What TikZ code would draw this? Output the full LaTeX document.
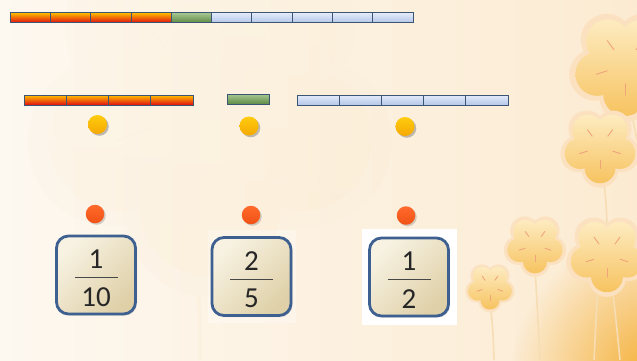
\documentclass[tikz,border=0pt]{standalone}
\usepackage{fontspec}
\setmainfont{Carlito}
\usetikzlibrary{shadows,fadings}

\definecolor{bgleft}{HTML}{FDF8F0}
\definecolor{bgright}{HTML}{FCEBD2}
\definecolor{glow}{HTML}{F4AC2C}
\definecolor{petaltop}{HTML}{FDEBC0}
\definecolor{petalbot}{HTML}{F7C360}
\definecolor{petalhalo}{HTML}{FBE1BF}
\definecolor{petalmark}{HTML}{F0A47A}
\definecolor{stemcol}{HTML}{F6DDB4}
\definecolor{segline}{HTML}{3D5575}
\definecolor{redtop}{HTML}{FFC000}
\definecolor{redmid}{HTML}{FF7000}
\definecolor{redbot}{HTML}{E01010}
\definecolor{greentop}{HTML}{A9C894}
\definecolor{greenbot}{HTML}{5E8C45}
\definecolor{bluetop}{HTML}{E4ECFA}
\definecolor{bluebot}{HTML}{B4C6E8}
\definecolor{dotyel}{HTML}{FFCC10}
\definecolor{dotyeldark}{HTML}{F5A800}
\definecolor{dotorg}{HTML}{FF6A2C}
\definecolor{dotorgdark}{HTML}{F05214}
\definecolor{boxblue}{HTML}{3E6090}
\definecolor{boxlight}{HTML}{F7F2E2}
\definecolor{boxdark}{HTML}{DFD0A8}
\definecolor{ink}{HTML}{262626}

\tikzfading[name=glowfade, inner color=transparent!0, outer color=transparent!100]

\tikzset{
  seg/.style={draw=segline, line width=0.8pt},
  redseg/.style={seg, top color=redtop, middle color=redmid, bottom color=redbot},
  greenseg/.style={seg, top color=greentop, bottom color=greenbot},
  blueseg/.style={seg, top color=bluetop, bottom color=bluebot},
  yeldot/.style={circle, inner sep=0pt, minimum size=19pt, top color=dotyel, bottom color=dotyeldark,
    drop shadow={shadow xshift=1.8pt, shadow yshift=-1.8pt, opacity=0.5}},
  orgdot/.style={circle, inner sep=0pt, minimum size=18.5pt, top color=dotorg, bottom color=dotorgdark,
    drop shadow={shadow xshift=1.5pt, shadow yshift=-1.5pt, opacity=0.35}},
  fracbox/.style={draw=boxblue, line width=2.8pt, rounded corners=12pt,
    minimum width=79pt, minimum height=78pt, inner sep=0pt,
    top color=boxlight, bottom color=boxdark, shading angle=45,
    drop shadow={shadow xshift=1.5pt, shadow yshift=-1.5pt, opacity=0.25}},
  digit/.style={font=\fontsize{29}{32}\selectfont, text=ink, inner sep=0pt, anchor=base},
  fracline/.style={draw=ink!85, line width=1.1pt},
  flower/.pic={
    \fill[petalhalo] (0,0) circle (0.5)
      foreach \a in {90,162,234,306,378} { (\a:0.6) circle (0.5) };
    \shade[top color=petaltop, bottom color=petalbot] (0,0) circle (0.42)
      foreach \a in {90,162,234,306,378} { (\a:0.56) circle (0.42) };
    \foreach \a in {90,162,234,306,378}
      \draw[petalmark, line width=0.9pt, line cap=round] (\a:0.36) -- (\a:0.58);
  },
  stem/.style={draw=stemcol, line width=1.6pt}
}

\begin{document}
\begin{tikzpicture}[x=1pt, y=-1pt]
\useasboundingbox (0,0) rectangle (637,360);

% background
\shade[left color=bgleft, right color=bgright] (0,0) rectangle (637,360);
\fill[glow, path fading=glowfade] (660,380) circle (150);

% faint large flower behind the content
\begin{scope}[transparency group, opacity=0.06]
  \draw[stemcol!60!orange, line width=4pt] (197,150) -- (200,360);
  \pic at (210,110) [scale=170] {flower};
\end{scope}

% stems
\draw[stem] (490,300) .. controls (493,330) .. (494,360);
\draw[stem] (535,268) .. controls (538,320) .. (540,360);
\draw[stem] (598,285) .. controls (596,320) .. (594,360);
\draw[stem] (612,285) .. controls (616,320) .. (620,360);
\draw[stem] (603,175) .. controls (606,200) .. (607,225);
\draw[stem] (630,105) .. controls (634,125) .. (637,140);

% flowers
\pic at (625,65) [scale=52] {flower};
\pic at (600,147) [scale=37] {flower};
\pic at (535,245) [scale=29] {flower};
\pic at (607,255) [scale=38] {flower};
\pic at (490,287) [scale=23] {flower};

% whole strip of ten parts
\foreach \i in {0,...,3}
  \path[redseg] ({10+40.3*\i},12.5) rectangle ({10+40.3*(\i+1)},22.5);
\path[greenseg] (171.2,12.5) rectangle (211.5,22.5);
\foreach \i in {0,...,4}
  \path[blueseg] ({211.5+40.3*\i},12.5) rectangle ({211.5+40.3*(\i+1)},22.5);

% the strip cut into pieces
\foreach \i in {0,...,3}
  \path[redseg] ({24+42.25*\i},95) rectangle ({24+42.25*(\i+1)},105);
\path[greenseg] (227,94) rectangle (269,104);
\foreach \i in {0,...,4}
  \path[blueseg] ({297+42.2*\i},95) rectangle ({297+42.2*(\i+1)},105);

% markers
\node[yeldot] (y1) at (97.5,124.5) {};
\node[yeldot] (y2) at (249,126) {};
\node[yeldot] (y3) at (405,126.5) {};
\node[orgdot] (o1) at (95,214) {};
\node[orgdot] (o2) at (251,215) {};
\node[orgdot] (o3) at (406,215.5) {};

% fraction cards
\fill[white, opacity=0.3] (208,230) rectangle (296,323);
\fill[white] (362,229) rectangle (457,325);
\node[fracbox] (b1) at (96,275) {};
\node[fracbox] (b2) at (251.5,276.5) {};
\node[fracbox] (b3) at (409,277) {};

\node[digit] (n1) at (96,268.5) {1};
\draw[fracline] (74.5,277.7) -- (117.5,277.7);
\node[digit] (d1) at (96,306) {10};

\node[digit] (n2) at (251.5,270) {2};
\draw[fracline] (230,279.2) -- (273,279.2);
\node[digit] (d2) at (251.5,307.5) {5};

\node[digit] (n3) at (409,270.5) {1};
\draw[fracline] (387.5,279.7) -- (430.5,279.7);
\node[digit] (d3) at (409,308) {2};
\end{tikzpicture}
\end{document}
